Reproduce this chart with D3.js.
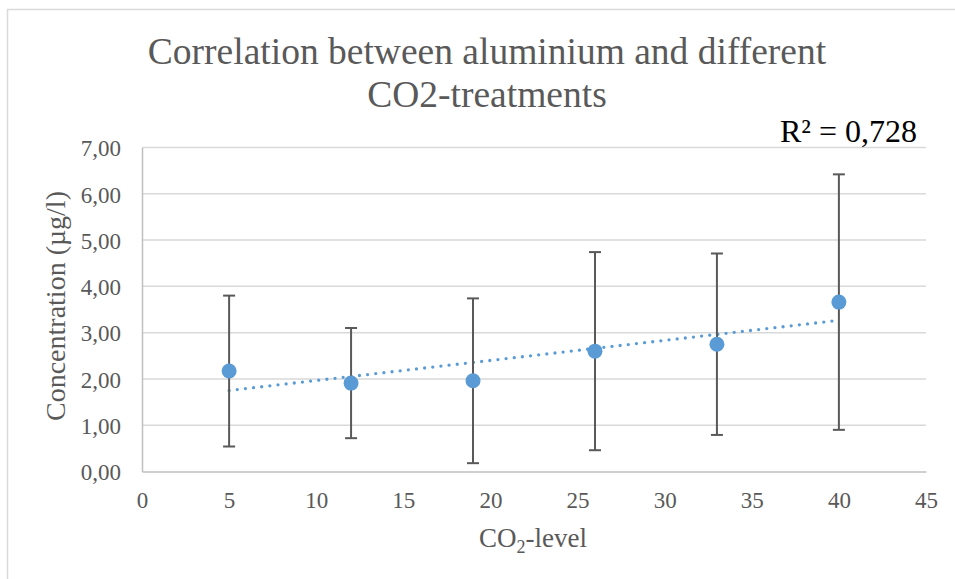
<!DOCTYPE html>
<html>
<head>
<meta charset="utf-8">
<script src="https://cdn.jsdelivr.net/npm/d3@7"></script>
<style>
  html, body { margin: 0; padding: 0; background: #fff; }
  svg { display: block; }
  text { font-family: "Liberation Serif", "Times New Roman", serif; }
</style>
</head>
<body>
<script>
// CO2 treatment levels and aluminium concentration (mean ± SD, µg/l)
const co2Levels = [5, 12, 19, 26, 33, 40];
const aluminiumMean = [2.17, 1.91, 1.96, 2.60, 2.75, 3.66];
const aluminiumSD = [1.63, 1.19, 1.78, 2.14, 1.96, 2.76];

const xTicks = [0, 5, 10, 15, 20, 25, 30, 35, 40, 45];
const yTicks = [0, 1, 2, 3, 4, 5, 6, 7];

const titleLines = ["Correlation between aluminium and different", "CO2-treatments"];
const rSquaredLabel = "R² = 0,728";

const W = 955, H = 579;
const plot = { left: 142, right: 926, top: 147.5, bottom: 471.5 };

const svg = d3.select("body").append("svg")
  .attr("width", W).attr("height", H);

// chart frame
svg.append("rect")
  .attr("x", 7.5).attr("y", 9.5)
  .attr("width", 1000).attr("height", 1000)
  .attr("fill", "#fff").attr("stroke", "#d9d9d9").attr("stroke-width", 1.5);

const x = d3.scaleLinear().domain([0, 45]).range([plot.left, plot.right]);
const y = d3.scaleLinear().domain([0, 7]).range([plot.bottom, plot.top]);

const commaFmt = d3.formatLocale({ decimal: ",", thousands: ".", grouping: [3], currency: ["", ""] });
const fmtY = commaFmt.format(".2f");

// horizontal gridlines
svg.append("g").selectAll("line").data(yTicks.filter(d => d > 0)).join("line")
  .attr("x1", plot.left).attr("x2", plot.right)
  .attr("y1", d => y(d)).attr("y2", d => y(d))
  .attr("stroke", "#d9d9d9").attr("stroke-width", 1.5);

// axes
const yAxis = svg.append("g").attr("transform", `translate(${plot.left},0)`)
  .call(d3.axisLeft(y).tickValues(yTicks).tickFormat(fmtY).tickSize(0).tickPadding(21));
const xAxis = svg.append("g").attr("transform", `translate(0,${plot.bottom})`)
  .call(d3.axisBottom(x).tickValues(xTicks).tickFormat(d3.format("d")).tickSize(0).tickPadding(20));

[yAxis, xAxis].forEach(g => {
  g.select(".domain").attr("stroke", "#bfbfbf").attr("stroke-width", 1.5);
  g.selectAll("text").attr("fill", "#595959").attr("font-size", 23)
    .attr("font-family", "'Liberation Serif', 'Times New Roman', serif");
});
yAxis.selectAll("text").attr("dy", "0.36em");
xAxis.selectAll("text").attr("dy", "0.7em");

// linear trendline (least squares) across the data range
const mx = d3.mean(co2Levels), my = d3.mean(aluminiumMean);
const sxy = d3.sum(co2Levels, (v, i) => (v - mx) * (aluminiumMean[i] - my));
const sxx = d3.sum(co2Levels, v => (v - mx) ** 2);
const slope = sxy / sxx, intercept = my - slope * mx;
const xExtent = d3.extent(co2Levels);
svg.append("path")
  .datum(xExtent.map(v => [v, intercept + slope * v]))
  .attr("d", d3.line().x(d => x(d[0])).y(d => y(d[1])))
  .attr("fill", "none").attr("stroke", "#5b9bd5")
  .attr("stroke-width", 3.3).attr("stroke-linecap", "round")
  .attr("stroke-dasharray", "0 8.2");

// error bars
const data = co2Levels.map((v, i) => ({ x: v, m: aluminiumMean[i], sd: aluminiumSD[i] }));
const eb = svg.append("g").attr("stroke", "#595959").attr("stroke-width", 2);
eb.selectAll("line.v").data(data).join("line").attr("class", "v")
  .attr("x1", d => x(d.x)).attr("x2", d => x(d.x))
  .attr("y1", d => y(d.m - d.sd)).attr("y2", d => y(d.m + d.sd));
eb.selectAll("line.top").data(data).join("line").attr("class", "top")
  .attr("x1", d => x(d.x) - 6).attr("x2", d => x(d.x) + 6)
  .attr("y1", d => y(d.m + d.sd)).attr("y2", d => y(d.m + d.sd));
eb.selectAll("line.bot").data(data).join("line").attr("class", "bot")
  .attr("x1", d => x(d.x) - 6).attr("x2", d => x(d.x) + 6)
  .attr("y1", d => y(d.m - d.sd)).attr("y2", d => y(d.m - d.sd));

// mean markers
svg.append("g").selectAll("circle").data(data).join("circle")
  .attr("cx", d => x(d.x)).attr("cy", d => y(d.m)).attr("r", 7.5)
  .attr("fill", "#5b9bd5");

// title
svg.append("text")
  .attr("text-anchor", "middle").attr("fill", "#595959").attr("font-size", 37.5)
  .selectAll("tspan").data(titleLines).join("tspan")
  .attr("x", 487).attr("y", (d, i) => 64 + i * 43).text(d => d);

// R² label
svg.append("text")
  .attr("x", 917).attr("y", 142).attr("text-anchor", "end")
  .attr("fill", "#000").attr("font-size", 32).text(rSquaredLabel);

// axis titles
svg.append("text")
  .attr("transform", "translate(65,306) rotate(-90)")
  .attr("text-anchor", "middle").attr("fill", "#595959").attr("font-size", 28)
  .text("Concentration (µg/l)");

const xTitle = svg.append("text")
  .attr("x", 533).attr("y", 547).attr("text-anchor", "middle")
  .attr("fill", "#595959").attr("font-size", 27);
xTitle.append("tspan").text("CO");
xTitle.append("tspan").attr("font-size", 18).attr("dy", 6).text("2");
xTitle.append("tspan").attr("dy", -6).text("-level");
</script>
</body>
</html>
